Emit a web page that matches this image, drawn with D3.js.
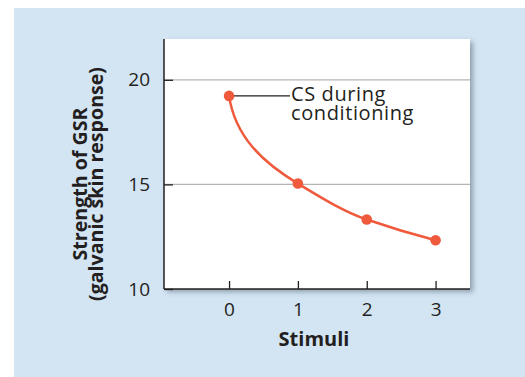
<!DOCTYPE html>
<html>
<head>
<meta charset="utf-8">
<script src="https://cdn.jsdelivr.net/npm/d3@7"></script>
<style>
  html, body { margin: 0; padding: 0; background: #ffffff; }
  svg { display: block; }
  text { font-family: "Open Sans", "Noto Sans", sans-serif; fill: #231f20; }
</style>
</head>
<body>
<div id="chart"></div>
<script>
// ---- data ----
const stimuli = [0, 1, 2, 3];
const gsrValues = [19.23, 15.04, 13.32, 12.33];
const yTicks = [10, 15, 20];
const xTicks = [0, 1, 2, 3];
const annotationLines = ["CS during", "conditioning"];
const xTitle = "Stimuli";
const yTitleLines = ["Strength of GSR", "(galvanic skin response)"];

const W = 525, H = 377;
const plot = { left: 164, right: 470, top: 39, bottom: 289 };

const svg = d3.select("#chart").append("svg").attr("width", W).attr("height", H);

const defs = svg.append("defs");
const f = defs.append("filter").attr("id", "shadow")
  .attr("x", "-10%").attr("y", "-10%").attr("width", "130%").attr("height", "130%");
f.append("feDropShadow").attr("dx", 3).attr("dy", 3).attr("stdDeviation", 2.5)
  .attr("flood-color", "#3a4a5a").attr("flood-opacity", 0.45);

// background panel
svg.append("rect").attr("x", 14).attr("y", 8).attr("width", W - 14).attr("height", H - 8)
  .attr("fill", "#d3e4f3");

const x = d3.scaleLinear().domain([-0.945, 3.5]).range([plot.left, plot.right]);
const y = d3.scaleLinear().domain([10, 21.95]).range([plot.bottom, plot.top]);

// plot area with shadow
svg.append("rect")
  .attr("x", plot.left).attr("y", plot.top)
  .attr("width", plot.right - plot.left).attr("height", plot.bottom - plot.top)
  .attr("fill", "#ffffff").attr("filter", "url(#shadow)");

// grid lines
svg.append("g").selectAll("line").data(yTicks.filter(d => d > 10)).join("line")
  .attr("x1", plot.left).attr("x2", plot.right)
  .attr("y1", d => y(d)).attr("y2", d => y(d))
  .attr("stroke", "#b4b4b4").attr("stroke-width", 1.2);

// y axis
const yAxis = svg.append("g").attr("transform", `translate(${plot.left},0)`)
  .call(d3.axisLeft(y).tickValues(yTicks).tickSize(-9).tickPadding(14).tickFormat(d3.format("d")));
yAxis.select(".domain").attr("stroke", "#231f20").attr("stroke-width", 1.5)
  .attr("d", `M0,${plot.top}V${plot.bottom}`);
yAxis.selectAll(".tick line").attr("stroke", "#231f20").attr("stroke-width", 1.3);
yAxis.selectAll(".tick text").attr("font-size", 19).attr("fill", "#231f20")
  .attr("font-family", "'Open Sans', sans-serif");

// x axis
const xAxis = svg.append("g").attr("transform", `translate(0,${plot.bottom})`)
  .call(d3.axisBottom(x).tickValues(xTicks).tickSize(-8).tickPadding(14).tickFormat(d3.format("d")));
xAxis.select(".domain").attr("stroke", "#231f20").attr("stroke-width", 1.5)
  .attr("d", `M${plot.left},0H${plot.right}`);
xAxis.selectAll(".tick line").attr("stroke", "#231f20").attr("stroke-width", 1.3);
xAxis.selectAll(".tick text").attr("font-size", 19).attr("fill", "#231f20")
  .attr("font-family", "'Open Sans', sans-serif");

// titles
svg.append("text").attr("x", 314).attr("y", 346).attr("text-anchor", "middle")
  .attr("font-size", 20).attr("font-weight", "bold").text(xTitle);

const yt = svg.append("text")
  .attr("transform", "translate(0,184) rotate(-90)")
  .attr("text-anchor", "middle").attr("font-size", 19.6).attr("font-weight", "bold");
yt.append("tspan").attr("x", 0).attr("y", 86.5).text(yTitleLines[0]);
yt.append("tspan").attr("x", 0).attr("y", 103).text(yTitleLines[1]);

// series: smooth curve through the data points (cubic Hermite in pixel space)
const data = stimuli.map((s, i) => ({ s, v: gsrValues[i] }));
const pts = data.map(d => [x(d.s), y(d.v)]);
function smoothPath(p) {
  const n = p.length;
  const seg = [];
  for (let i = 0; i < n - 1; i++) seg.push((p[i + 1][1] - p[i][1]) / (p[i + 1][0] - p[i][0]));
  const norm = v => { const l = Math.hypot(v[0], v[1]); return [v[0] / l, v[1] / l]; };
  const tan = p.map((_, i) => {
    if (i === 0) return norm([0.15, 1]);
    if (i === n - 1) return norm([1, 0.85 * seg[n - 2]]);
    return norm([1, 1.15 * seg[i]]);
  });
  const path = d3.path();
  path.moveTo(p[0][0], p[0][1]);
  for (let i = 0; i < n - 1; i++) {
    const L = Math.hypot(p[i + 1][0] - p[i][0], p[i + 1][1] - p[i][1]);
    const h = i === 0 ? 0.37 * L : L / 3;
    path.bezierCurveTo(
      p[i][0] + tan[i][0] * h, p[i][1] + tan[i][1] * h,
      p[i + 1][0] - tan[i + 1][0] * h, p[i + 1][1] - tan[i + 1][1] * h,
      p[i + 1][0], p[i + 1][1]);
  }
  return path.toString();
}
svg.append("path").attr("d", smoothPath(pts))
  .attr("fill", "none").attr("stroke", "#ef5a3c").attr("stroke-width", 2.5);

// annotation leader
svg.append("line")
  .attr("x1", x(stimuli[0])).attr("x2", 290)
  .attr("y1", y(gsrValues[0])).attr("y2", y(gsrValues[0]))
  .attr("stroke", "#231f20").attr("stroke-width", 1.2);

svg.append("g").selectAll("circle").data(data).join("circle")
  .attr("cx", d => x(d.s)).attr("cy", d => y(d.v)).attr("r", 5.3)
  .attr("fill", "#ef5a3c");

const at = svg.append("text").attr("font-size", 20).attr("letter-spacing", 0.6);
at.append("tspan").attr("x", 291).attr("y", 101).text(annotationLines[0]);
at.append("tspan").attr("x", 291).attr("y", 120).text(annotationLines[1]);
</script>
</body>
</html>
